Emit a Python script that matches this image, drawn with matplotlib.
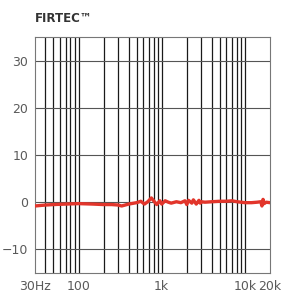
import matplotlib
matplotlib.use("Agg")
import matplotlib.pyplot as plt

# frequency response
freq = [30, 40, 50, 70, 100, 150, 200, 250, 300, 330, 400, 500, 560, 620, 680, 750, 800,
        870, 950, 1000, 1100, 1200, 1300, 1500, 1700, 1900, 2000, 2100, 2300, 2400,
        2600, 2800, 2900, 3000, 3300, 4000, 5000, 6000, 7000, 8000, 9000, 10000,
        12000, 14000, 15500, 16000, 16500, 17000, 18000, 20000]
level = [-0.8, -0.6, -0.5, -0.4, -0.3, -0.4, -0.5, -0.5, -0.6, -0.8, -0.4, -0.1, 0.2,
         -0.4, 0.1, 0.9, 0.3, -0.5, 0.3, -0.4, 0.3, 0.0, -0.2, 0.1, -0.1, 0.3, -0.5,
         0.4, -0.2, 0.5, -0.4, 0.4, -0.2, 0.1, 0.0, 0.1, 0.2, 0.2, 0.3, 0.1, 0.0,
         -0.1, -0.1, 0.0, 0.1, -0.8, 0.6, -0.3, 0.0, -0.1]

xticks = [30, 100, 1000, 10000, 20000]
xlabels = ["30Hz", "100", "1k", "10k", "20k"]
yticks = [-10, 0, 10, 20, 30]

minor = [40, 50, 60, 70, 80, 90, 200, 300, 400, 500, 600, 700, 800, 900,
         2000, 3000, 4000, 5000, 6000, 7000, 8000, 9000]

fig = plt.figure(figsize=(2.83, 2.94), dpi=100)
ax = fig.add_axes([35 / 283, 21 / 294, 235 / 283, 236 / 294])

for f in minor + [100, 1000, 10000]:
    ax.axvline(f, color="#1a1a1a", lw=0.9, zorder=1)
for v in yticks:
    ax.axhline(v, color="#555555", lw=0.8, zorder=1)

ax.plot(freq, level, color="#e2352b", lw=2.4, solid_capstyle="round", zorder=3)

ax.set_xscale("log")
ax.set_xlim(30, 20000)
ax.set_ylim(-15, 35)
ax.set_xticks(xticks)
ax.set_xticklabels(xlabels)
ax.xaxis.set_minor_locator(matplotlib.ticker.NullLocator())
ax.set_yticks(yticks)
ax.tick_params(length=0, labelsize=9, colors="#5a5a5a", pad=5)
for s in ax.spines.values():
    s.set_color("#777777")
    s.set_linewidth(0.8)

fig.text(35 / 283, 1 - 18 / 294, "FIRTEC\u2122", fontsize=8.5, fontweight="bold",
         color="#333333", va="center", ha="left")

fig.savefig("out.png", dpi=100)
